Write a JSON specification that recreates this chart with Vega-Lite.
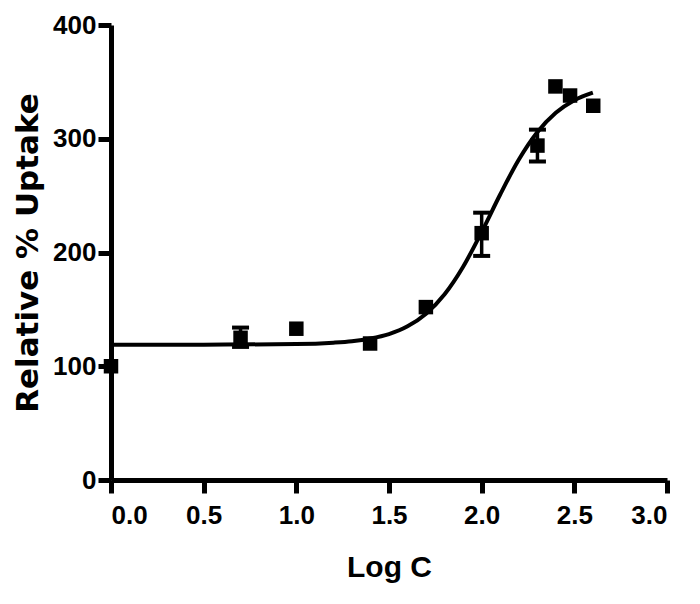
{
  "$schema": "https://vega.github.io/schema/vega-lite/v6.json",
  "autosize": "none",
  "width": 556,
  "height": 455,
  "padding": {"left": 111, "top": 25, "right": 33, "bottom": 124},
  "background": "white",
  "config": {
    "view": {"stroke": null},
    "axis": {
      "grid": false,
      "domainColor": "black",
      "domainWidth": 5,
      "tickColor": "black",
      "tickWidth": 5,
      "tickSize": 13,
      "labelColor": "black",
      "labelFont": "Liberation Sans",
      "labelFontWeight": "bold",
      "labelFontSize": 26,
      "titleColor": "black",
      "titleFontWeight": "bold"
    }
  },
  "datasets": {
    "points": [
      {"logc": 0.0, "uptake": 100},
      {"logc": 0.699, "uptake": 125, "lo": 117, "hi": 134},
      {"logc": 1.0, "uptake": 133},
      {"logc": 1.398, "uptake": 120},
      {"logc": 1.699, "uptake": 152},
      {"logc": 2.0, "uptake": 217, "lo": 197, "hi": 235},
      {"logc": 2.301, "uptake": 294, "lo": 280, "hi": 308},
      {"logc": 2.398, "uptake": 346},
      {"logc": 2.477, "uptake": 338},
      {"logc": 2.602, "uptake": 329}
    ],
    "curve": [
      {"logc": 0.0, "fit": 119.0},
      {"logc": 0.5, "fit": 119.0},
      {"logc": 1.0, "fit": 119.5},
      {"logc": 1.2, "fit": 120.7},
      {"logc": 1.3, "fit": 122.0},
      {"logc": 1.4, "fit": 124.4},
      {"logc": 1.5, "fit": 128.3},
      {"logc": 1.6, "fit": 135.1},
      {"logc": 1.7, "fit": 146.2},
      {"logc": 1.8, "fit": 163.3},
      {"logc": 1.9, "fit": 187.5},
      {"logc": 2.0, "fit": 218.0},
      {"logc": 2.1, "fit": 251.0},
      {"logc": 2.2, "fit": 281.5},
      {"logc": 2.3, "fit": 305.7},
      {"logc": 2.4, "fit": 322.8},
      {"logc": 2.5, "fit": 333.9},
      {"logc": 2.6, "fit": 340.6}
    ]
  },
  "layer": [
    {
      "data": {"name": "curve"},
      "mark": {"type": "line", "color": "black", "strokeWidth": 4, "interpolate": "monotone"},
      "encoding": {
        "x": {
          "field": "logc", "type": "quantitative",
          "scale": {"domain": [0, 3], "nice": false},
          "axis": {"values": [0, 0.5, 1, 1.5, 2, 2.5, 3], "format": ".1f", "labelPadding": 9,
                   "title": "Log C", "titleFont": "Liberation Sans", "titleFontSize": 30, "titlePadding": 24}
        },
        "y": {
          "field": "fit", "type": "quantitative",
          "scale": {"domain": [0, 400], "nice": false},
          "axis": {"values": [0, 100, 200, 300, 400], "labelPadding": 2,
                   "title": "Relative % Uptake", "titleFont": "DejaVu Sans", "titleFontSize": 31, "titlePadding": 8}
        }
      }
    },
    {
      "data": {"name": "points"},
      "transform": [{"filter": "isValid(datum.lo)"}],
      "mark": {"type": "rule", "color": "black", "strokeWidth": 3.5},
      "encoding": {
        "x": {"field": "logc", "type": "quantitative"},
        "y": {"field": "lo", "type": "quantitative"},
        "y2": {"field": "hi"}
      }
    },
    {
      "data": {"name": "points"},
      "transform": [{"filter": "isValid(datum.lo)"}],
      "mark": {"type": "tick", "orient": "horizontal", "color": "black", "size": 17, "thickness": 4, "opacity": 1},
      "encoding": {
        "x": {"field": "logc", "type": "quantitative"},
        "y": {"field": "lo", "type": "quantitative"}
      }
    },
    {
      "data": {"name": "points"},
      "transform": [{"filter": "isValid(datum.hi)"}],
      "mark": {"type": "tick", "orient": "horizontal", "color": "black", "size": 17, "thickness": 4, "opacity": 1},
      "encoding": {
        "x": {"field": "logc", "type": "quantitative"},
        "y": {"field": "hi", "type": "quantitative"}
      }
    },
    {
      "data": {"name": "points"},
      "mark": {"type": "point", "shape": "square", "filled": true, "color": "black", "size": 210, "opacity": 1},
      "encoding": {
        "x": {"field": "logc", "type": "quantitative"},
        "y": {"field": "uptake", "type": "quantitative"}
      }
    }
  ]
}
